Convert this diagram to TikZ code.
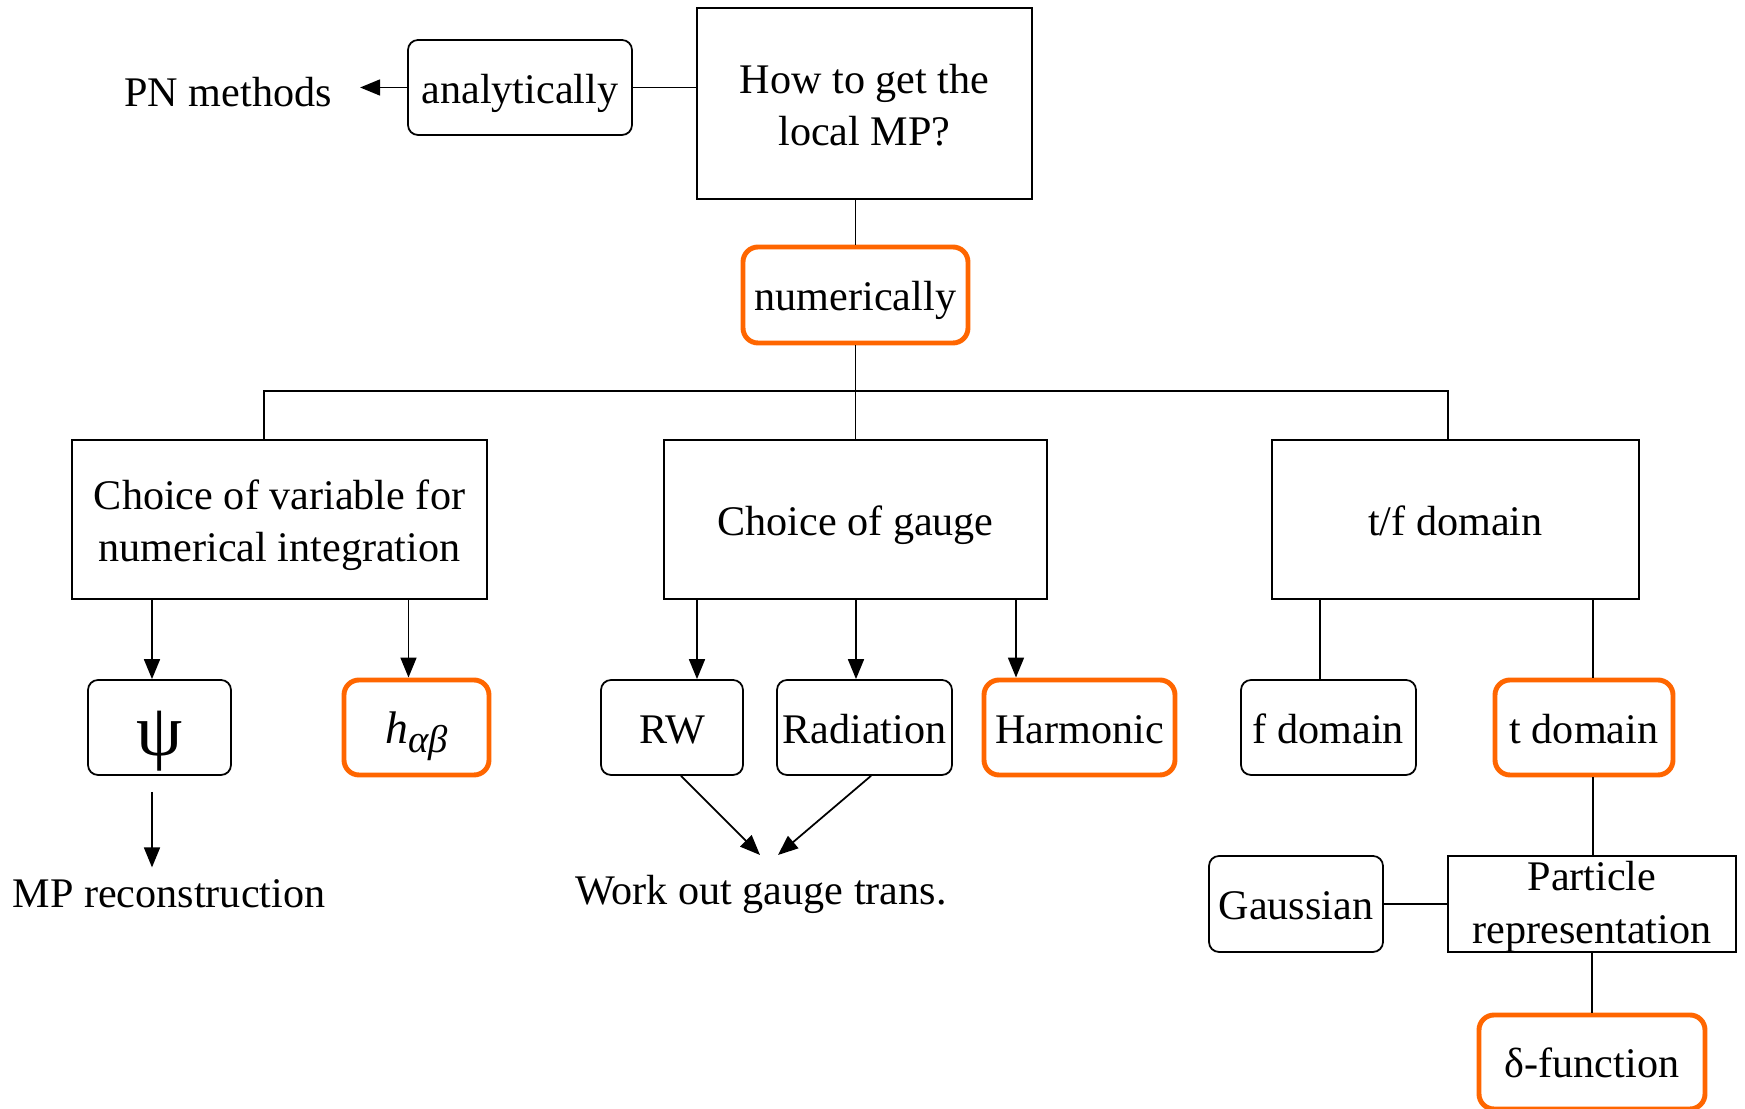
\documentclass[tikz,border=0pt]{standalone}
\usepackage{fontspec}
\setmainfont{Liberation Serif}
\usetikzlibrary{arrows.meta}
\definecolor{mporange}{RGB}{255,102,0}
\newcommand{\tstrut}{\rule{0pt}{0.42cm}}
\newcommand{\bstrut}{\rule[-0.10cm]{0pt}{0.10cm}}
\tikzset{
    block/.style={rectangle, draw, line width=0.5pt, align=center, inner sep=0pt, font=\fontsize{12}{14.8}\selectfont},
    oneline/.style={text height=0.42cm, text depth=0.10cm},
    rblock/.style={block, oneline, rounded corners=0.1cm, minimum height=0.95cm},
    hblock/.style={rblock, draw=mporange, line width=1.4pt, rounded corners=0.15cm},
    plain/.style={align=center, font=\fontsize{12}{14.8}\selectfont},
    conn/.style={line width=0.5pt},
    arrow/.style={conn, -{Triangle[length=0.20cm, width=0.16cm]}}
}
\begin{document}
\begin{tikzpicture}
            \useasboundingbox (0,0) rectangle (17.45,-11.09);
            \node[block, minimum width=3.35cm, minimum height=1.91cm] (question) at (8.645,-1.035) {\tstrut How to get the\\local MP?\bstrut};
            \node[rblock, minimum width=2.24cm] (analytic) at (5.20,-0.875) {analytically};
            \node[plain] (pn) at (2.28,-0.92) {PN methods};
            \node[hblock, minimum width=2.25cm, minimum height=0.96cm] (numeric) at (8.555,-2.95) {numerically};
            \coordinate (split) at (8.555,-3.91);
            \node[block, minimum width=4.15cm, minimum height=1.59cm] (varchoice) at (2.795,-5.195) {\tstrut Choice of variable for\\numerical integration\bstrut};
            \node[block, oneline, minimum width=3.83cm, minimum height=1.59cm] (gaugechoice) at (8.555,-5.195) {Choice of gauge};
            \node[block, oneline, minimum width=3.67cm, minimum height=1.59cm] (tfdomain) at (14.555,-5.195) {t/f domain};
            \node[rblock, minimum width=1.43cm] (psi) at (1.595,-7.275) {\raisebox{-0.125cm}{\fontsize{21}{24}\selectfont ψ}};
            \node[hblock, minimum width=1.45cm] (hab) at (4.165,-7.275) {\fontsize{13}{16}\selectfont\itshape h\raisebox{-2.6pt}{\fontsize{11}{13}\selectfont αβ}};
            \node[rblock, minimum width=1.42cm] (rw) at (6.72,-7.275) {RW};
            \node[rblock, minimum width=1.75cm] (radiation) at (8.645,-7.275) {Radiation};
            \node[hblock, minimum width=1.91cm] (harmonic) at (10.795,-7.275) {Harmonic};
            \node[rblock, minimum width=1.75cm] (fdomain) at (13.285,-7.275) {f domain};
            \node[hblock, minimum width=1.78cm] (tdomain) at (15.84,-7.275) {t domain};
            \node[plain] (mprec) at (1.69,-8.94) {MP reconstruction};
            \node[plain] (gaugetrans) at (7.61,-8.94) {Work out gauge trans.};
            \coordinate (wl) at (7.60,-8.55);
            \coordinate (wr) at (7.78,-8.55);
            \node[rblock, minimum width=1.74cm, minimum height=0.96cm] (gaussian) at (12.96,-9.04) {Gaussian};
            \node[block, minimum width=2.88cm, minimum height=0.96cm] (particle) at (15.92,-9.04) {\rule{0pt}{0.35cm}Particle\\representation};
            \node[hblock, minimum width=2.26cm, minimum height=0.94cm] (delta) at (15.92,-10.62) {δ-function};
            \draw[conn] (analytic.east) -- (analytic.east -| question.west);
            \draw[arrow, shorten >=0.16cm] (analytic.west) -- (analytic.west -| pn.east);
            \draw[conn] (question.south -| numeric.north) -- (numeric.north);
            \draw[conn] (numeric.south) -- (split);
            \draw[conn] ([xshift=-0.155cm]varchoice.north) |- (split) -| ([xshift=-0.075cm]tfdomain.north);
            \draw[conn] (split) -- (gaugechoice.north);
            \draw[arrow] ([xshift=-0.075cm]psi.north |- varchoice.south) -- ([xshift=-0.075cm]psi.north);
            \draw[arrow] ([xshift=-0.08cm]hab.north |- varchoice.south) -- ([xshift=-0.08cm]hab.north);
            \draw[arrow] ([xshift=0.25cm]rw.north |- gaugechoice.south) -- ([xshift=0.25cm]rw.north);
            \draw[arrow] ([xshift=-0.085cm]radiation.north |- gaugechoice.south) -- ([xshift=-0.085cm]radiation.north);
            \draw[arrow] ([xshift=-0.635cm]harmonic.north |- gaugechoice.south) -- ([xshift=-0.635cm]harmonic.north);
            \draw[conn] ([xshift=-0.085cm]fdomain.north |- tfdomain.south) -- ([xshift=-0.085cm]fdomain.north);
            \draw[conn] ([xshift=0.09cm]tdomain.north |- tfdomain.south) -- ([xshift=0.09cm]tdomain.north);
            \draw[arrow, shorten <=0.16cm] ([xshift=-0.075cm]psi.south) -- ([xshift=-0.075cm]psi.south |- mprec.north);
            \draw[arrow] ([xshift=0.09cm]rw.south) -- (wl);
            \draw[arrow] ([xshift=0.065cm]radiation.south) -- (wr);
            \draw[conn] ([xshift=0.09cm]tdomain.south) -- ([xshift=0.09cm]tdomain.south |- particle.north);
            \draw[conn] (gaussian.east) -- (particle.west);
            \draw[conn] (particle.south) -- (delta.north);
        \end{tikzpicture}
\end{document}
